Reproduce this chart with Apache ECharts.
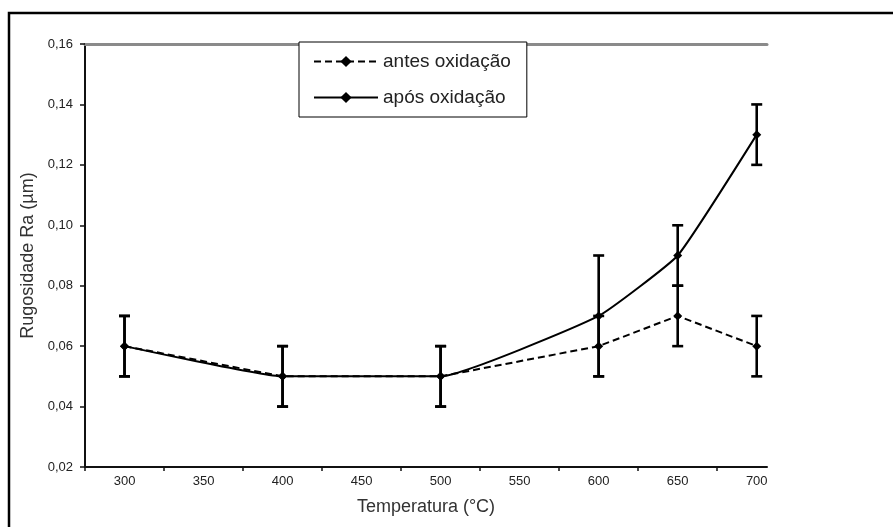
<!DOCTYPE html>
<html>
<head>
<meta charset="utf-8">
<script src="https://cdn.jsdelivr.net/npm/echarts@6/dist/echarts.min.js"></script>
<style>
html,body{margin:0;padding:0;background:#fff;overflow:hidden;}
#chart{width:893px;height:527px;}
</style>
</head>
<body>
<div id="chart"></div>
<script>
// ---- data ----
const temps = [300, 400, 500, 600, 650, 700];
const antes = [0.06, 0.05, 0.05, 0.06, 0.07, 0.06];
const apos = [0.06, 0.05, 0.05, 0.07, 0.09, 0.13];
const antesErr = [0.01, 0.01, 0.01, 0.01, 0.01, 0.01];
const aposErr = [0.01, 0.01, 0.01, 0.02, 0.01, 0.01];
const xLabelValues = [300, 350, 400, 450, 500, 550, 600, 650, 700];
const xTickValues = [275, 325, 375, 425, 475, 525, 575, 625, 675];
const seriesNames = ['antes oxidação', 'após oxidação'];

const FONT = '"Liberation Sans", Arial, sans-serif';

function pairs(xs, ys) { return xs.map((x, i) => [x, ys[i]]); }
function errData(xs, ys, es) { return xs.map((x, i) => [x, ys[i] - es[i], ys[i] + es[i]]); }

function renderErr(params, api) {
  const x = api.value(0);
  const lo = api.coord([x, api.value(1)]);
  const hi = api.coord([x, api.value(2)]);
  const half = 5.5;
  const st = { stroke: '#000', lineWidth: 2.6 };
  return {
    type: 'group',
    children: [
      { type: 'line', shape: { x1: lo[0], y1: lo[1], x2: hi[0], y2: hi[1] }, style: st },
      { type: 'line', shape: { x1: lo[0] - half, y1: lo[1], x2: lo[0] + half, y2: lo[1] }, style: st },
      { type: 'line', shape: { x1: hi[0] - half, y1: hi[1], x2: hi[0] + half, y2: hi[1] }, style: st }
    ]
  };
}

const chart = echarts.init(document.getElementById('chart'));
chart.setOption({
  backgroundColor: '#fff',
  animation: false,
  graphic: [{
    type: 'rect', z: -10,
    shape: { x: 9, y: 13, width: 2000, height: 2000 },
    style: { fill: 'none', stroke: '#000', lineWidth: 2.5 }
  }],
  grid: { left: 85, right: 126, top: 44, bottom: 60, containLabel: false },
  legend: {
    data: seriesNames,
    left: 299, top: 42,
    orient: 'vertical',
    backgroundColor: '#fff',
    borderColor: '#000', borderWidth: 1,
    padding: [10, 16, 10, 14],
    itemGap: 17,
    itemWidth: 64, itemHeight: 14,
    textStyle: { fontFamily: FONT, fontSize: 19, color: '#222' },
    z: 10
  },
  xAxis: [{
    type: 'value', min: 275, max: 706.5,
    name: 'Temperatura (°C)', nameLocation: 'middle', nameGap: 31,
    nameTextStyle: { fontFamily: FONT, fontSize: 18, color: '#333' },
    axisLine: { show: true, onZero: false, lineStyle: { color: '#111', width: 2 } },
    axisTick: { show: true, length: 4, customValues: xTickValues, lineStyle: { color: '#111', width: 1.5 } },
    axisLabel: { customValues: xLabelValues, margin: 8, fontFamily: FONT, fontSize: 13, color: '#222' },
    splitLine: { show: false }
  }, {
    type: 'value', position: 'top', min: 275, max: 706.5,
    axisLine: { show: true, onZero: false, lineStyle: { color: '#8a8a8a', width: 3 } },
    axisTick: { show: false }, axisLabel: { show: false }, splitLine: { show: false }
  }],
  yAxis: {
    type: 'value', min: 0.02, max: 0.16, interval: 0.02,
    name: 'Rugosidade Ra (µm)', nameLocation: 'middle', nameGap: 28,
    nameTextStyle: { fontFamily: FONT, fontSize: 18, color: '#333' },
    axisLine: { show: true, onZero: false, lineStyle: { color: '#111', width: 2 } },
    axisTick: { show: true, length: 5, lineStyle: { color: '#111', width: 1.5 } },
    axisLabel: { margin: 12, fontFamily: FONT, fontSize: 13, color: '#222',
      formatter: v => v.toFixed(2).replace('.', ',') },
    splitLine: { show: false }
  },
  series: [
    { type: 'custom', name: 'errA', renderItem: renderErr, data: errData(temps, antes, antesErr), z: 3, silent: true },
    { type: 'custom', name: 'errB', renderItem: renderErr, data: errData(temps, apos, aposErr), z: 3, silent: true },
    {
      type: 'line', name: seriesNames[0], data: pairs(temps, antes),
      symbol: 'diamond', symbolSize: 9,
      itemStyle: { color: '#000' },
      lineStyle: { color: '#000', width: 2, type: [7, 4] },
      z: 4
    },
    {
      type: 'line', name: seriesNames[1], data: pairs(temps, apos),
      symbol: 'diamond', symbolSize: 9, smooth: 0.12,
      itemStyle: { color: '#000' },
      lineStyle: { color: '#000', width: 2 },
      z: 5
    }
  ]
});
</script>
</body>
</html>
